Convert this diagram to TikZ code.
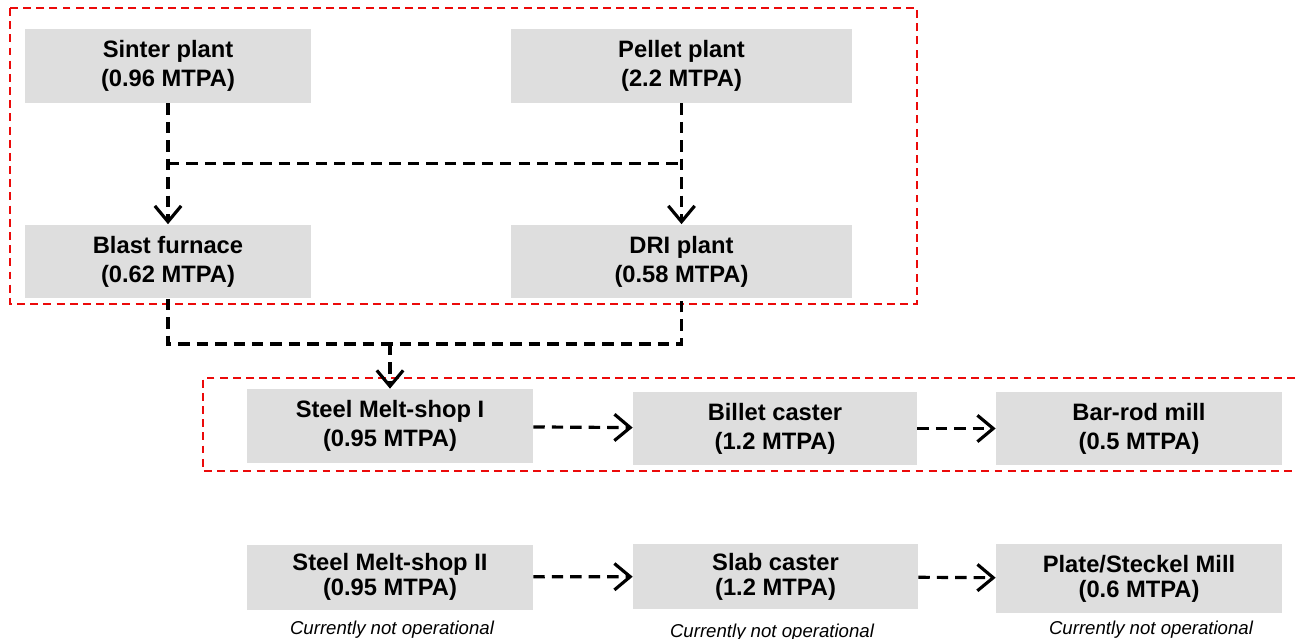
\documentclass[tikz,border=0pt]{standalone}
\usepackage{fontspec}
\setmainfont{Liberation Sans}
\usetikzlibrary{arrows.meta}
\definecolor{grisclaro}{RGB}{222,222,222}
\definecolor{rojo}{RGB}{235,10,10}
\tikzset{
  planta/.style={
    fill=grisclaro,
    align=center,
    inner sep=2pt,
    minimum width=5.72cm,
    minimum height=1.48cm,
    font=\fontsize{13.5}{16.5}\bfseries\selectfont
  },
  bajo/.style={
    planta,
    minimum height=1.3cm,
    font=\fontsize{13.5}{14.2}\bfseries\selectfont
  },
  nota/.style={
    inner sep=0pt,
    anchor=base,
    font=\fontsize{10.6}{12}\itshape\selectfont
  },
  zona/.style={
    draw=rojo,
    line width=1.1pt,
    dash pattern=on 4.5pt off 3pt
  },
  enlace/.style={
    line width=1.8pt,
    dash pattern=on 6.5pt off 4pt
  },
  arrow/.style={
    enlace,
    -{Straight Barb[length=9pt,width=15pt]}
  }
}

\begin{document}
\begin{tikzpicture}[x=0.02cm,y=-0.02cm]
\useasboundingbox (0,0) rectangle (1295,639);
% zonas
\draw[zona] (10,8) rectangle (917,304);
\draw[zona] (1295,378) -| (203,471) -- (1295,471);
% materias primas y hierro
\node[planta] (a) at (168,66) {Sinter plant\\(0.96 MTPA)};
\node[planta,minimum width=6.82cm] (b) at (681.5,66) {Pellet plant\\(2.2 MTPA)};
\node[planta] (c) at (168,261.5) {Blast furnace\\(0.62 MTPA)};
\node[planta,minimum width=6.82cm] (d) at (681.5,261.5) {DRI plant\\(0.58 MTPA)};
% acero, linea I
\node[planta] (e) at (390,426) {Steel Melt-shop I\\(0.95 MTPA)};
\node[planta,minimum width=5.68cm] (f) at (775,428.5) {Billet caster\\(1.2 MTPA)};
\node[planta] (g) at (1139,428.5) {Bar-rod mill\\(0.5 MTPA)};
% acero, linea II
\node[bajo] (h) at (390,577) {Steel Melt-shop II\\(0.95 MTPA)};
\node[bajo,minimum width=5.7cm] (i) at (775.5,576.5) {Slab caster\\(1.2 MTPA)};
\node[bajo,minimum height=1.38cm] (j) at (1139,578.5) {Plate/Steckel Mill\\(0.6 MTPA)};
\node[nota] (h1) at (392,634) {Currently not operational};
\node[nota] (i1) at (772,637) {Currently not operational};
\node[nota] (j1) at (1151,634) {Currently not operational};
% flechas
\path (a.south) -- (c.north) coordinate[pos=.5] (ac);
\path (b.south) -- (d.north) coordinate[pos=.5] (bd);
\draw[enlace] (ac) -- (bd);
\draw[arrow] (a) -- (c);
\draw[arrow] (b) -- (d);
\coordinate (m) at (390,344);
\draw[enlace] (c.south) |- (m) -| (d.south);
\draw[arrow] (m) -- (e.north);
\draw[arrow] (e) -- (f);
\draw[arrow] (f) -- (g);
\draw[arrow] (h) -- (i);
\draw[arrow] (i) -- (j);
\end{tikzpicture}
\end{document}
